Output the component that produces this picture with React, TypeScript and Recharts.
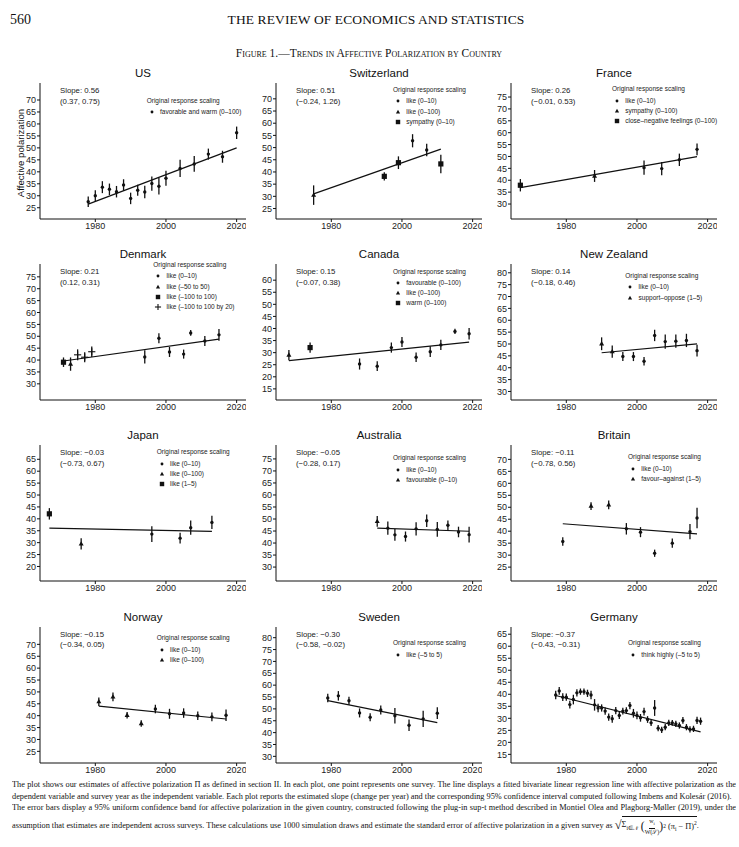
import React from 'react';
import { ComposedChart, Scatter, Line, XAxis, YAxis, ErrorBar } from 'recharts';

// [year, estimate, half-width of 95% band, response-scaling kind]
type Row = [number, number, number, number];

const US_POINTS: Row[] = [
  [1978, 27.5, 2.2, 0], [1980, 30.0, 2.3, 0], [1982, 33.6, 2.5, 0], [1984, 32.7, 2.4, 0],
  [1986, 31.7, 2.4, 0], [1988, 34.5, 2.4, 0], [1990, 28.9, 2.4, 0], [1992, 32.3, 2.3, 0],
  [1994, 31.6, 2.6, 0], [1996, 35.1, 3.0, 0], [1998, 34.0, 3.5, 0], [2000, 37.3, 3.1, 0],
  [2004, 41.4, 3.6, 0], [2008, 43.3, 3.3, 0], [2012, 47.4, 2.3, 0], [2016, 46.3, 2.5, 0],
  [2020, 56.3, 2.6, 0],
];
const CH_POINTS: Row[] = [
  [1975, 30.5, 4.0, 1], [1995, 38.2, 1.7, 2], [1999, 43.8, 2.6, 2], [2003, 52.8, 2.7, 0],
  [2007, 49.0, 2.6, 0], [2011, 43.3, 3.8, 2],
];
const FR_POINTS: Row[] = [
  [1967, 37.9, 2.6, 2], [1988, 41.8, 2.5, 1], [2002, 45.3, 3.0, 0], [2007, 44.9, 2.8, 0],
  [2012, 48.6, 2.6, 0], [2017, 53.0, 2.5, 0],
];
const DK_POINTS: Row[] = [
  [1971, 39.1, 2.0, 2], [1973, 38.3, 2.8, 1], [1975, 42.2, 2.3, 3], [1977, 41.2, 2.1, 3],
  [1979, 43.5, 2.2, 3], [1994, 41.3, 2.8, 0], [1998, 49.2, 2.1, 0], [2001, 43.4, 2.1, 0],
  [2005, 42.5, 1.9, 0], [2007, 51.4, 1.2, 0], [2011, 48.0, 2.1, 0], [2015, 50.6, 2.5, 0],
];
const CA_POINTS: Row[] = [
  [1968, 29.0, 2.1, 1], [1974, 32.1, 2.1, 2], [1988, 25.3, 2.3, 0], [1993, 24.4, 2.0, 0],
  [1997, 32.1, 2.1, 0], [2000, 34.4, 2.1, 0], [2004, 28.1, 2.0, 0], [2008, 30.4, 2.2, 0],
  [2011, 33.2, 2.1, 0], [2015, 38.8, 1.1, 0], [2019, 37.8, 2.4, 0],
];
const NZ_POINTS: Row[] = [
  [1990, 50.1, 2.7, 1], [1993, 46.8, 2.6, 1], [1996, 44.7, 1.9, 0], [1999, 44.7, 1.9, 0],
  [2002, 42.7, 1.8, 0], [2005, 53.6, 2.4, 0], [2008, 51.0, 3.0, 0], [2011, 51.2, 2.8, 0],
  [2014, 51.5, 2.8, 0], [2017, 47.2, 2.5, 0],
];
const JP_POINTS: Row[] = [
  [1967, 42.1, 2.4, 2], [1976, 29.5, 2.4, 1], [1996, 33.6, 3.3, 0], [2004, 31.9, 2.3, 0],
  [2007, 36.3, 3.0, 0], [2013, 38.5, 2.8, 0],
];
const AU_POINTS: Row[] = [
  [1993, 49.0, 2.2, 1], [1996, 46.2, 2.8, 0], [1998, 43.4, 2.4, 0], [2001, 42.7, 2.1, 0],
  [2004, 45.9, 2.8, 0], [2007, 49.3, 2.6, 0], [2010, 45.7, 3.1, 0], [2013, 47.4, 2.0, 0],
  [2016, 44.6, 2.2, 0], [2019, 43.5, 3.3, 0],
];
const GB_POINTS: Row[] = [
  [1979, 35.7, 1.8, 0], [1987, 50.5, 1.6, 1], [1992, 51.0, 1.8, 1], [1997, 41.0, 2.4, 0],
  [2001, 39.6, 2.1, 0], [2005, 30.8, 1.5, 0], [2010, 35.0, 1.9, 0], [2015, 39.8, 3.2, 0],
  [2017, 45.5, 4.3, 0],
];
const NO_POINTS: Row[] = [
  [1981, 45.9, 1.8, 1], [1985, 47.9, 1.8, 1], [1989, 40.2, 1.4, 1], [1993, 36.7, 1.4, 1],
  [1997, 42.8, 1.8, 0], [2001, 40.8, 2.1, 0], [2005, 41.1, 2.0, 0], [2009, 40.0, 1.8, 0],
  [2013, 39.5, 1.8, 0], [2017, 40.2, 2.4, 0],
];
const SE_POINTS: Row[] = [
  [1979, 54.6, 1.8, 0], [1982, 55.5, 2.0, 0], [1985, 53.4, 1.7, 0], [1988, 48.3, 1.9, 0],
  [1991, 46.5, 1.7, 0], [1994, 49.5, 1.9, 0], [1998, 47.1, 3.3, 0], [2002, 43.1, 2.4, 0],
  [2006, 45.8, 3.4, 0], [2010, 48.2, 2.5, 0],
];
const DE_POINTS: Row[] = [
  [1977, 39.7, 1.8, 0], [1978, 41.4, 1.6, 0], [1979, 38.8, 1.6, 0], [1980, 38.8, 1.5, 0],
  [1981, 35.7, 1.6, 0], [1982, 37.8, 2.0, 0], [1983, 40.6, 1.5, 0], [1984, 41.1, 1.3, 0],
  [1985, 41.1, 1.3, 0], [1986, 40.4, 1.5, 0], [1987, 39.7, 1.8, 0], [1988, 35.6, 2.4, 0],
  [1989, 34.3, 1.8, 0], [1990, 34.3, 1.5, 0], [1991, 33.0, 1.5, 0], [1992, 30.5, 1.5, 0],
  [1993, 29.8, 1.6, 0], [1994, 33.2, 1.5, 0], [1995, 31.2, 1.5, 0], [1996, 33.0, 1.4, 0],
  [1997, 33.2, 1.4, 0], [1998, 35.3, 1.5, 0], [1999, 32.1, 1.8, 0], [2000, 31.2, 1.6, 0],
  [2001, 30.2, 1.6, 0], [2002, 32.8, 1.6, 0], [2003, 29.5, 1.4, 0], [2004, 28.1, 1.3, 0],
  [2005, 34.3, 3.3, 0], [2006, 25.9, 1.3, 0], [2007, 25.2, 1.3, 0], [2008, 26.3, 1.3, 0],
  [2009, 28.1, 1.3, 0], [2010, 28.1, 1.2, 0], [2011, 27.7, 1.3, 0], [2012, 27.0, 1.3, 0],
  [2013, 29.1, 1.4, 0], [2014, 26.3, 1.3, 0], [2015, 25.4, 1.3, 0], [2016, 25.6, 1.3, 0],
  [2017, 29.1, 1.5, 0], [2018, 28.8, 1.5, 0],
];

const COUNTRIES = ['US', 'Switzerland', 'France', 'Denmark', 'Canada', 'New Zealand',
  'Japan', 'Australia', 'Britain', 'Norway', 'Sweden', 'Germany'];
const POINTS = [US_POINTS, CH_POINTS, FR_POINTS, DK_POINTS, CA_POINTS, NZ_POINTS,
  JP_POINTS, AU_POINTS, GB_POINTS, NO_POINTS, SE_POINTS, DE_POINTS];
const SLOPES = [0.56, 0.51, 0.26, 0.21, 0.15, 0.14, -0.03, -0.05, -0.11, -0.15, -0.30, -0.37];
const TREND_START = [26.5, 31.0, 36.9, 39.6, 26.7, 46.3, 36.1, 46.2, 43.1, 44.0, 53.5, 39.5];
const SLOPE_TEXT = ['Slope: 0.56', 'Slope: 0.51', 'Slope: 0.26', 'Slope: 0.21', 'Slope: 0.15',
  'Slope: 0.14', 'Slope: \u22120.03', 'Slope: \u22120.05', 'Slope: \u22120.11', 'Slope: \u22120.15',
  'Slope: \u22120.30', 'Slope: \u22120.37'];
const CI_TEXT = ['(0.37, 0.75)', '(\u22120.24, 1.26)', '(\u22120.01, 0.53)', '(0.12, 0.31)',
  '(\u22120.07, 0.38)', '(\u22120.18, 0.46)', '(\u22120.73, 0.67)', '(\u22120.28, 0.17)',
  '(\u22120.78, 0.56)', '(\u22120.34, 0.05)', '(\u22120.58, \u22120.02)', '(\u22120.43, \u22120.31)'];
const Y_TICKS = [
  [25, 30, 35, 40, 45, 50, 55, 60, 65, 70],
  [25, 30, 35, 40, 45, 50, 55, 60, 65, 70],
  [30, 35, 40, 45, 50, 55, 60, 65, 70, 75],
  [30, 35, 40, 45, 50, 55, 60, 65, 70, 75],
  [15, 20, 25, 30, 35, 40, 45, 50, 55, 60],
  [30, 35, 40, 45, 50, 55, 60, 65, 70, 75, 80],
  [20, 25, 30, 35, 40, 45, 50, 55, 60, 65],
  [30, 35, 40, 45, 50, 55, 60, 65, 70, 75],
  [25, 30, 35, 40, 45, 50, 55, 60, 65, 70],
  [25, 30, 35, 40, 45, 50, 55, 60, 65, 70],
  [30, 35, 40, 45, 50, 55, 60, 65, 70, 75, 80],
  [15, 20, 25, 30, 35, 40, 45, 50, 55, 60, 65],
];
const Y_DOMAINS = [
  [20.3, 77.1], [20.7, 76.5], [23.7, 80.9], [23.2, 80.4], [10.4, 66.7], [26.4, 83.7],
  [13.9, 71.0], [24.2, 80.8], [19.2, 76.0], [20.1, 77.3], [27.2, 84.5], [11.4, 68.0],
];
const X_DOMAIN = [1964.35, 2022.65];
const X_TICKS = [1980, 2000, 2020];
const LEGEND_LABELS = [
  ['favorable and warm (0\u2013100)'],
  ['like (0\u201310)', 'like (0\u2013100)', 'sympathy (0\u201310)'],
  ['like (0\u201310)', 'sympathy (0\u2013100)', 'close\u2013negative feelings (0\u2013100)'],
  ['like (0\u201310)', 'like (\u201350 to 50)', 'like (\u2013100 to 100)', 'like (\u2013100 to 100 by 20)'],
  ['favourable (0\u2013100)', 'like (0\u2013100)', 'warm (0\u2013100)'],
  ['like (0\u201310)', 'support\u2013oppose (1\u20135)'],
  ['like (0\u201310)', 'like (0\u2013100)', 'like (1\u20135)'],
  ['like (0\u201310)', 'favourable (0\u201310)'],
  ['like (0\u201310)', 'favour\u2013against (1\u20135)'],
  ['like (0\u201310)', 'like (0\u2013100)'],
  ['like (\u20135 to 5)'],
  ['think highly (\u20135 to 5)'],
];

// ---- layout (positions / sizes) ----
const COL_LEFT = [40, 276, 511];
const ROW_TOP = [83.3, 264, 445, 626.7];
const PLOT_W = 206;
const PLOT_H = 136;
const Y_AXIS_W = 30;
const X_AXIS_H = 22;
const LEGEND_POS = [
  [106.7, 17.4], [117, 6.7], [101, 6], [113.3, 1], [117, 7.7], [114.3, 12],
  [116.7, 7.3], [117, 13.3], [117, 12.3], [116.7, 11.7], [117, 16.7], [117, 16.7],
];
const SANS = '"Liberation Sans", Arial, Helvetica, sans-serif';
const SERIF = '"Liberation Serif", "Times New Roman", serif';
const INK = '#111';

function Symbol({ k, cx, cy, s = 1 }: { k: number; cx: number; cy: number; s?: number }) {
  if (k === 1) {
    return <path d={`M${cx},${cy - 2.7 * s} L${cx + 2.5 * s},${cy + 1.7 * s} L${cx - 2.5 * s},${cy + 1.7 * s} Z`} fill={INK} />;
  }
  if (k === 2) {
    return <rect x={cx - 2.6 * s} y={cy - 2.6 * s} width={5.2 * s} height={5.2 * s} fill={INK} />;
  }
  if (k === 3) {
    return (
      <g stroke={INK} strokeWidth={1.1}>
        <line x1={cx - 3.6 * s} x2={cx + 3.6 * s} y1={cy} y2={cy} />
        <line x1={cx} x2={cx} y1={cy - 3.6 * s} y2={cy + 3.6 * s} />
      </g>
    );
  }
  return <circle cx={cx} cy={cy} r={1.7 * s} fill={INK} />;
}

function Marker(props: any) {
  const { cx, cy, payload } = props;
  if (cx == null || cy == null) return null;
  return <Symbol k={payload.k} cx={cx} cy={cy} />;
}

function Panel({ i }: { i: number }) {
  const col = i % 3;
  const row = Math.floor(i / 3);
  const L = COL_LEFT[col];
  const T = ROW_TOP[row];
  const rows = POINTS[i];
  const pts = rows.map((r) => ({ x: r[0], y: r[1], e: r[2], k: r[3] }));
  const x0 = rows[0][0];
  const x1 = rows[rows.length - 1][0];
  const trend = [
    { x: x0, y: TREND_START[i] },
    { x: x1, y: TREND_START[i] + SLOPES[i] * (x1 - x0) },
  ];
  const lg = LEGEND_POS[i];
  const tickStyle = { fontSize: 9, fill: '#222', fontFamily: SANS };
  return (
    <>
      <div style={{ position: 'absolute', left: L, width: PLOT_W, top: T - 17, textAlign: 'center',
        fontFamily: SANS, fontSize: 11.5, lineHeight: '14px', color: INK }}>{COUNTRIES[i]}</div>
      <div style={{ position: 'absolute', left: L - Y_AXIS_W, top: T }}>
        <ComposedChart width={Y_AXIS_W + PLOT_W} height={PLOT_H + X_AXIS_H}
          margin={{ top: 0, right: 0, bottom: 0, left: 0 }}>
          <XAxis type="number" dataKey="x" domain={X_DOMAIN} ticks={X_TICKS} allowDataOverflow
            interval={0} height={X_AXIS_H} tick={tickStyle} tickSize={3} tickMargin={1}
            axisLine={{ stroke: INK, strokeWidth: 1 }} tickLine={{ stroke: INK }} />
          <YAxis type="number" dataKey="y" domain={Y_DOMAINS[i]} ticks={Y_TICKS[i]} allowDataOverflow
            interval={0} width={Y_AXIS_W} tick={tickStyle} tickSize={3} tickMargin={1}
            axisLine={{ stroke: INK, strokeWidth: 1 }} tickLine={{ stroke: INK }} />
          <Line data={trend} dataKey="y" dot={false} activeDot={false} stroke={INK}
            strokeWidth={1.2} isAnimationActive={false} legendType="none" />
          <Scatter data={pts} dataKey="y" shape={Marker} isAnimationActive={false}>
            <ErrorBar dataKey="e" direction="y" width={0} stroke={INK} strokeWidth={1.3}
              isAnimationActive={false} />
          </Scatter>
        </ComposedChart>
      </div>
      <div style={{ position: 'absolute', left: L + 20, top: T + 3, fontFamily: SANS, fontSize: 7.8,
        lineHeight: '10.5px', color: '#222', whiteSpace: 'nowrap' }}>
        <div>{SLOPE_TEXT[i]}</div>
        <div>{CI_TEXT[i]}</div>
      </div>
      <div style={{ position: 'absolute', left: L + lg[0], top: T + lg[1] - 4, fontFamily: SANS,
        fontSize: 6.5, lineHeight: '8px', color: '#222', whiteSpace: 'nowrap' }}>Original response scaling</div>
      {LEGEND_LABELS[i].map((lab, j) => {
        const cy = T + lg[1] + 11.3 + j * 10.2;
        return (
          <React.Fragment key={j}>
            <svg width={10} height={10} style={{ position: 'absolute', left: L + lg[0], top: cy - 5 }}>
              <Symbol k={j} cx={5} cy={5} s={0.85} />
            </svg>
            <div style={{ position: 'absolute', left: L + lg[0] + 13.3, top: cy - 4, fontFamily: SANS,
              fontSize: 6.5, lineHeight: '8px', color: '#222', whiteSpace: 'nowrap' }}>{lab}</div>
          </React.Fragment>
        );
      })}
    </>
  );
}

export default function App() {
  const foot: React.CSSProperties = { fontFamily: SERIF, fontSize: 8.3, lineHeight: '11.5px', color: INK, whiteSpace: 'nowrap' };
  const just: React.CSSProperties = { ...foot, whiteSpace: 'normal', textAlign: 'justify', textAlignLast: 'justify', height: 11.5, overflow: 'hidden' };
  return (
    <div style={{ position: 'absolute', left: 0, top: 0, width: 739, height: 847, background: '#fff', overflow: 'hidden' }}>
      <div style={{ position: 'absolute', left: 10, top: 12, fontFamily: SERIF, fontSize: 14, color: INK }}>560</div>
      <div style={{ position: 'absolute', left: 0, width: 752, top: 12, textAlign: 'center', fontFamily: SERIF,
        fontSize: 13.5, color: INK, letterSpacing: 0.1 }}>THE REVIEW OF ECONOMICS AND STATISTICS</div>
      <div style={{ position: 'absolute', left: 0, width: 738, top: 47, textAlign: 'center', fontFamily: SERIF,
        fontSize: 11.5, color: INK, fontVariant: 'small-caps' }}>Figure 1.—Trends in Affective Polarization by Country</div>
      <div style={{ position: 'absolute', left: 19.5, top: 152.5, transform: 'translate(-50%, -50%) rotate(-90deg)',
        fontFamily: SANS, fontSize: 9.6, color: INK, whiteSpace: 'nowrap' }}>Affective polarization</div>
      {COUNTRIES.map((_, i) => <Panel key={i} i={i} />)}
      <div style={{ position: 'absolute', left: 12, top: 779, width: 724 }}>
        <div style={just}>
          The plot shows our estimates of affective polarization Π as defined in section II. In each plot, one point represents one survey. The line displays a fitted bivariate linear regression line with affective polarization as the
        </div>
        <div style={foot}>
          dependent variable and survey year as the independent variable. Each plot reports the estimated slope (change per year) and the corresponding 95% confidence interval computed following Imbens and Kolesár (2016).
        </div>
        <div style={just}>
          The error bars display a 95% uniform confidence band for affective polarization in the given country, constructed following the plug-in sup-t method described in Montiel Olea and Plagborg-Møller (2019), under the
        </div>
        <div style={{ ...foot, marginTop: 2, display: 'flex', alignItems: 'center' }}>
          <span>assumption that estimates are independent across surveys. These calculations use 1000 simulation draws and estimate the standard error of affective polarization in a given survey as&nbsp;</span>
          <span style={{ fontSize: 12.5 }}>√</span>
          <span style={{ borderTop: `0.8px solid ${INK}`, display: 'inline-flex', alignItems: 'center', paddingTop: 1 }}>
            <span>Σ<sub style={{ fontSize: 5.5 }}>i∈𝒩</sub></span>
            <span style={{ fontSize: 11.5 }}>&nbsp;(</span>
            <span style={{ display: 'inline-flex', flexDirection: 'column', alignItems: 'center', fontSize: 6, lineHeight: '6.8px' }}>
              <span style={{ borderBottom: `0.6px solid ${INK}` }}>w<sub style={{ fontSize: 4.5 }}>i</sub></span>
              <span>W(𝒮)</span>
            </span>
            <span style={{ fontSize: 11.5 }}>)</span>
            <sup style={{ fontSize: 5.5 }}>2</sup>
            <span>&nbsp;(π<sub style={{ fontSize: 5.5 }}>i</sub> − Π)<sup style={{ fontSize: 5.5 }}>2</sup></span>
          </span>
          <span>.</span>
        </div>
      </div>
    </div>
  );
}
